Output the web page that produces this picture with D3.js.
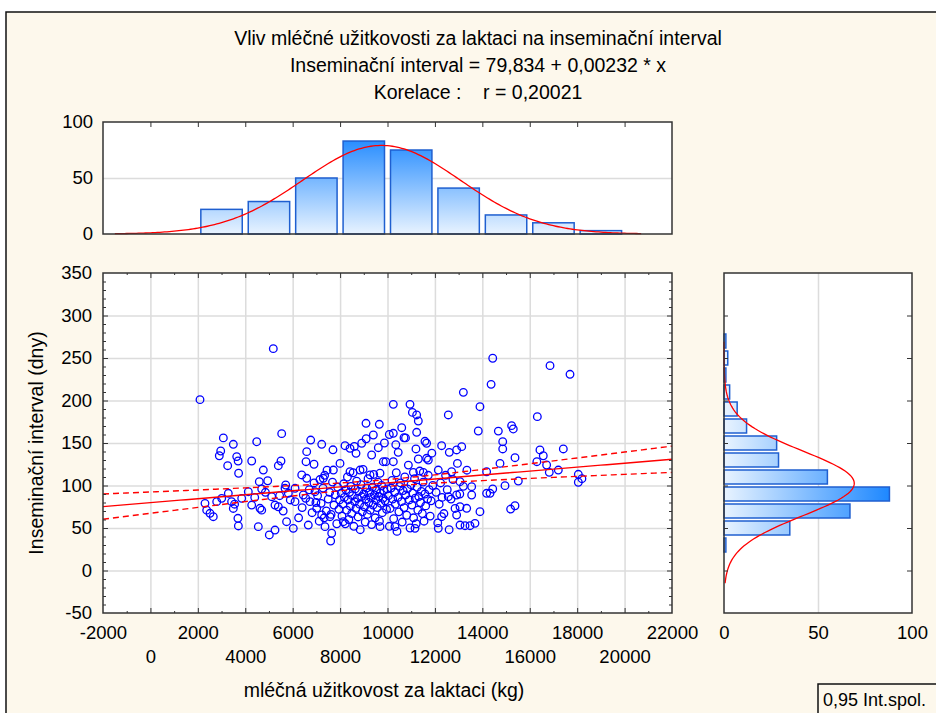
<!DOCTYPE html>
<html>
<head>
<meta charset="utf-8">
<script src="https://cdn.jsdelivr.net/npm/d3@7/dist/d3.min.js"></script>
<style>
  body { margin: 0; background: #fff; }
  text { font-family: 'Liberation Sans', Arial, sans-serif; fill: #000; }
</style>
</head>
<body>
<script>
/* global d3 */

// chart texts
const titleLines = [
  'Vliv mléčné užitkovosti za laktaci na inseminační interval',
  'Inseminační interval = 79,834 + 0,00232 * x',
  'Korelace :    r = 0,20021',
];
const xTitle = 'mléčná užitkovost za laktaci (kg)';
const yTitle = 'Inseminační interval (dny)';
const legendText = '0,95 Int.spol.';

// tick labels
const xLabelsRow1 = [-2000, 2000, 6000, 10000, 14000, 18000, 22000];
const xLabelsRow2 = [0, 4000, 8000, 12000, 16000, 20000];
const yLabels = [-50, 0, 50, 100, 150, 200, 250, 300, 350];
const histLabels = [0, 50, 100];

// histogram of milk yield (bins 2000 kg wide)
const xBinStarts = [2000, 4000, 6000, 8000, 10000, 12000, 14000, 16000, 18000];
const xBinCounts = [22, 29, 50, 83, 75, 41, 17, 10, 3];
// histogram of insemination interval (bins 20 days wide)
const yBinStarts = [20, 40, 60, 80, 100, 120, 140, 160, 180, 200, 220, 240, 260];
const yBinCounts = [1, 35, 67, 88, 55, 29, 28, 12, 7, 3, 1, 2, 1];

// fit parameters
const intercept = 79.834;
const slope = 0.00232;
const nObs = 330;
const meanX = 9750;
const sdX = 3330;
const meanY = 102.5;
const sdY = 38;
const residSd = 37.4;
const tCrit = 1.967;

// observations [kg, days]
const points = [
  [5183, 261], [2091, 201], [5537, 161], [3076, 156], [3497, 148.5], [4483, 151.5], [2965, 140.6],
  [2906, 135], [3640, 134], [3700, 128.8], [3259, 123.3], [4272, 128.8], [5508, 128.8], [5395, 123.3],
  [4762, 118.2], [3720, 114.4], [4593, 104.5], [4947, 105.6], [5706, 100.6], [4694, 95.9], [4129, 92.7],
  [3286, 90.8], [3007, 84.9], [3850, 84.9], [2302, 79], [2796, 81], [2374, 71], [2513, 67.3],
  [2652, 63.3], [3425, 81], [3496, 73], [3690, 61.4], [3710, 52.4], [4272, 77], [4622, 73.2],
  [4694, 71], [5115, 86.8], [5255, 77], [5395, 75], [5677, 96.7], [5818, 90.8], [4551, 51.6],
  [5015, 41.8], [5255, 47.6], [5743, 57.4], [3550, 78], [4400, 86], [4850, 92], [5450, 88],
  [5900, 83], [5600, 70],
  [6761, 153.5], [7225, 148.5], [6592, 139.8], [6563, 128], [6900, 125], [9093, 173.2], [9655, 172],
  [9402, 159.4], [10077, 160], [8208, 146.8], [8419, 143.7], [8912, 149.7], [9613, 144.5], [8672, 137.8],
  [9331, 135.9], [9824, 128], [7997, 126], [7716, 118.2], [6382, 112.4], [6592, 108.5], [7293, 108.5],
  [8419, 116.2], [8841, 118.2], [9262, 112.4], [9684, 114.4], [6100, 96.7], [6449, 88.8], [6943, 92.7],
  [6100, 81], [6731, 81], [7014, 73.2], [7225, 65.3], [7575, 63.3], [6659, 53.5], [7364, 51.6],
  [7646, 43.8], [7603, 34.7], [6027, 49.6], [8136, 57.4], [9684, 51.6],
  [13200, 209.6], [10245, 195.5], [10949, 195.5], [13900, 192.7], [11230, 183], [11300, 175.9],
  [12565, 183], [10245, 161.4], [10696, 156.2], [11230, 162.6], [13829, 164.1], [11650, 149.7],
  [12283, 146.8], [12607, 139], [13130, 145.7], [12916, 141.8], [10452, 139], [11300, 131.2],
  [11721, 130], [10245, 128], [12142, 118.2], [12705, 116.2], [11090, 115.5], [11511, 115.5],
  [14180, 116.2], [13058, 104.5], [13550, 98.6], [14180, 90.8], [13550, 88.8], [12916, 88.8],
  [12565, 86.8], [13058, 75], [13340, 73.2], [13900, 69.2], [12916, 65.3], [12142, 49.6],
  [13058, 53.5], [13270, 52.7], [13480, 52.7], [13690, 55.5], [12283, 63.3], [11160, 49.6], [10316, 51.6],
  [16855, 241], [17698, 230.8], [14438, 249.7], [14370, 219], [16320, 181], [14675, 164], [15235, 170.4],
  [15305, 166.5], [14860, 151.5], [14860, 143], [16430, 141.8], [16570, 135], [17416, 143], [15378, 132.7],
  [14745, 126], [16712, 124.1], [16824, 115.5], [17205, 118.2], [18049, 113.2], [18049, 103.8],
  [15518, 105.3], [14956, 99.8], [14438, 95.9], [14325, 90.8], [15378, 76.2], [15193, 72.3],
  [16300, 128], [18200, 108],
  // dense core
  [6250, 62], [6400, 74], [6550, 85], [6700, 95], [6820, 68], [6900, 103], [7050, 88], [7120, 58],
  [7200, 79], [7280, 97], [7350, 112], [7420, 70], [7500, 84], [7560, 92], [7620, 66], [7680, 104],
  [7740, 77], [7800, 89], [7860, 55], [7900, 98], [7950, 72], [7980, 83], [7450, 118], [6980, 80],
  [7330, 62], [7700, 142], [7150, 107],
  [8050, 91], [8080, 64], [8120, 78], [8150, 102], [8180, 86], [8220, 55], [8250, 95], [8280, 71],
  [8310, 110], [8340, 83], [8370, 60], [8400, 92], [8430, 76], [8460, 99], [8490, 67], [8520, 88],
  [8550, 115], [8580, 52], [8610, 81], [8640, 96], [8670, 73], [8700, 105], [8730, 85], [8760, 63],
  [8790, 93], [8820, 78], [8850, 48], [8880, 101], [8910, 87], [8940, 69], [8970, 119], [9000, 90],
  [9030, 75], [9060, 57], [9090, 84], [9120, 97], [9150, 66], [9180, 108], [9210, 80], [9240, 92],
  [9270, 71], [9300, 86], [9330, 54], [9360, 98], [9390, 77], [9420, 113], [9450, 89], [9480, 62],
  [9510, 83], [9540, 95], [9570, 74], [9600, 104], [9630, 87], [9660, 58], [9690, 91], [9720, 79],
  [9750, 100], [9780, 68], [9810, 85], [9840, 94], [9870, 150], [9900, 82], [9930, 128], [9960, 72],
  [9990, 96], [8600, 146], [9100, 155],
  [10040, 88], [10080, 52], [10110, 73], [10150, 97], [10190, 106], [10220, 84], [10260, 61], [10300, 92],
  [10330, 78], [10370, 115], [10400, 46], [10440, 86], [10480, 69], [10510, 99], [10550, 103], [10590, 81],
  [10620, 57], [10660, 94], [10700, 74], [10730, 110], [10770, 89], [10810, 65], [10840, 96], [10880, 124],
  [10920, 83], [10950, 50], [10990, 101], [11030, 77], [11060, 91], [11100, 62], [11140, 108], [11170, 85],
  [11210, 55], [11250, 98], [11280, 71], [11320, 87], [11360, 117], [11390, 80], [11430, 93], [11470, 67],
  [11500, 104], [11540, 58], [11580, 90], [11610, 76], [11650, 132], [11690, 84], [11720, 112], [11760, 95],
  [11800, 64], [11840, 82], [11870, 138], [11910, 100], [10350, 148], [10760, 156], [11200, 143],
  [11580, 152], [10600, 168], [11050, 186],
  [12050, 92], [12120, 56], [12180, 78], [12240, 103], [12300, 86], [12380, 67], [12450, 112], [12520, 95],
  [12600, 48], [12680, 84], [12760, 107], [12850, 73], [12950, 126], [13050, 90], [13200, 99], [13350, 118],
];

const W = 936;
const H = 713;
const plot = { left: 103, right: 672, top: 273, bottom: 613 };
const topHist = { top: 122, bottom: 234 };
const sideHist = { left: 724, right: 912 };

const fontSize = '18.5px';
const titleSize = '19.5px';
const gridColor = '#dcdcdc';
const frameColor = '#333';

const svg = d3.select('body')
  .append('svg')
  .attr('width', W)
  .attr('height', H);

const defs = svg.append('defs');

// background with the cream panel
svg.append('rect').attr('width', W).attr('height', H).attr('fill', '#fff');
svg.append('rect')
  .attr('x', 6).attr('y', 12)
  .attr('width', W).attr('height', H)
  .attr('fill', '#fdf8ec')
  .attr('stroke', '#111')
  .attr('stroke-width', 1.5);

const x = d3.scaleLinear().domain([-2000, 22000]).range([plot.left, plot.right]);
const y = d3.scaleLinear().domain([-50, 350]).range([plot.bottom, plot.top]);
const yTop = d3.scaleLinear().domain([0, 100]).range([topHist.bottom, topHist.top]);
const xSide = d3.scaleLinear().domain([0, 100]).range([sideHist.left, sideHist.right]);

// titles
svg.append('g')
  .selectAll('text')
  .data(titleLines)
  .enter().append('text')
  .attr('x', 478)
  .attr('y', (d, i) => 45 + i * 27)
  .attr('text-anchor', 'middle')
  .style('font-size', titleSize)
  .style('white-space', 'pre')
  .text((d) => d);

function styleAxis(g) {
  g.select('.domain').remove();
  g.selectAll('text')
    .attr('font-family', null)
    .style('font-size', fontSize)
    .style('fill', '#000');
}

/* ---------- top histogram ---------- */
const gradV = defs.append('linearGradient')
  .attr('id', 'gradV')
  .attr('gradientUnits', 'userSpaceOnUse')
  .attr('x1', 0).attr('x2', 0)
  .attr('y1', topHist.bottom).attr('y2', yTop(88));
gradV.append('stop').attr('offset', '0%').attr('stop-color', '#e8f3ff');
gradV.append('stop').attr('offset', '100%').attr('stop-color', '#1e88ff');

svg.append('rect')
  .attr('x', plot.left).attr('y', topHist.top)
  .attr('width', plot.right - plot.left)
  .attr('height', topHist.bottom - topHist.top)
  .attr('fill', '#fff');

svg.append('g')
  .attr('transform', `translate(${plot.left},0)`)
  .call(d3.axisLeft(yTop).tickValues([50]).tickSize(-(plot.right - plot.left)).tickFormat(''))
  .call((g) => g.select('.domain').remove())
  .selectAll('line').attr('stroke', gridColor).attr('stroke-width', 1.5);

svg.append('g')
  .selectAll('rect')
  .data(xBinStarts)
  .enter().append('rect')
  .attr('x', (d) => x(d) + 3)
  .attr('width', (d) => x(d + 2000) - x(d) - 6)
  .attr('y', (d, i) => yTop(xBinCounts[i]))
  .attr('height', (d, i) => yTop(0) - yTop(xBinCounts[i]))
  .attr('fill', 'url(#gradV)')
  .attr('stroke', '#1f5fd0')
  .attr('stroke-width', 1.5);

const normTop = d3.range(-1500, 20701, 100).map((v) => [
  v,
  (nObs * 2000) / (sdX * Math.sqrt(2 * Math.PI)) * Math.exp(-0.5 * ((v - meanX) / sdX) ** 2),
]);
svg.append('path')
  .datum(normTop)
  .attr('fill', 'none')
  .attr('stroke', '#ff0000')
  .attr('stroke-width', 1.3)
  .attr('d', d3.line().x((d) => x(d[0])).y((d) => yTop(d[1])));

svg.append('g')
  .attr('transform', `translate(0,${topHist.top})`)
  .call(d3.axisBottom(x).tickValues(d3.range(0, 20001, 2000)).tickSize(5).tickFormat(''))
  .call((g) => g.select('.domain').remove())
  .selectAll('line').attr('stroke', frameColor);

svg.append('rect')
  .attr('x', plot.left).attr('y', topHist.top)
  .attr('width', plot.right - plot.left)
  .attr('height', topHist.bottom - topHist.top)
  .attr('fill', 'none')
  .attr('stroke', frameColor)
  .attr('stroke-width', 1.5);

svg.append('g')
  .attr('transform', `translate(${plot.left},0)`)
  .call(d3.axisLeft(yTop).tickValues(histLabels).tickSize(0).tickPadding(10))
  .call(styleAxis);

/* ---------- scatter plot ---------- */
svg.append('rect')
  .attr('x', plot.left).attr('y', plot.top)
  .attr('width', plot.right - plot.left)
  .attr('height', plot.bottom - plot.top)
  .attr('fill', '#fff');

svg.append('g')
  .attr('transform', `translate(0,${plot.bottom})`)
  .call(d3.axisBottom(x).tickValues(d3.range(0, 20001, 2000)).tickSize(-(plot.bottom - plot.top)).tickFormat(''))
  .call((g) => g.select('.domain').remove())
  .selectAll('line').attr('stroke', gridColor).attr('stroke-width', 1.5);

svg.append('g')
  .attr('transform', `translate(${plot.left},0)`)
  .call(d3.axisLeft(y).tickValues(d3.range(0, 301, 50)).tickSize(-(plot.right - plot.left)).tickFormat(''))
  .call((g) => g.select('.domain').remove())
  .selectAll('line').attr('stroke', gridColor).attr('stroke-width', 1.5);

svg.append('g')
  .selectAll('circle')
  .data(points)
  .enter().append('circle')
  .attr('cx', (d) => x(d[0]))
  .attr('cy', (d) => y(d[1]))
  .attr('r', 3.8)
  .attr('fill', 'none')
  .attr('stroke', '#0000ff')
  .attr('stroke-width', 1.3);

// regression line and 0.95 confidence band
const sxx = nObs * sdX * sdX;
const fitX = d3.range(-2000, 22001, 250);
const fit = fitX.map((v) => {
  const yh = intercept + slope * v;
  const se = residSd * Math.sqrt(1 / nObs + ((v - meanX) ** 2) / sxx);
  return { v, yh, lo: yh - tCrit * se, hi: yh + tCrit * se };
});

svg.append('path')
  .datum(fit)
  .attr('fill', 'none')
  .attr('stroke', '#ff0000')
  .attr('stroke-width', 1.4)
  .attr('d', d3.line().x((d) => x(d.v)).y((d) => y(d.yh)));

['lo', 'hi'].forEach((k) => {
  svg.append('path')
    .datum(fit)
    .attr('fill', 'none')
    .attr('stroke', '#ff0000')
    .attr('stroke-width', 1.4)
    .attr('stroke-dasharray', '6,4')
    .attr('d', d3.line().x((d) => x(d.v)).y((d) => y(d[k])));
});

// inner ticks on all sides
function innerTicks(axisFn, scale, values, size, transform) {
  svg.append('g')
    .attr('transform', transform)
    .call(axisFn(scale).tickValues(values).tickSize(size).tickFormat(''))
    .call((g) => g.select('.domain').remove())
    .selectAll('line').attr('stroke', frameColor);
}
const yMinor = d3.range(-40, 350, 10).filter((v) => v % 50 !== 0);
const xMinor = d3.range(-1000, 22000, 2000);
const xMajor = d3.range(0, 20001, 2000);
const yMajor = d3.range(0, 301, 50);
innerTicks(d3.axisRight, y, yMajor, 5, `translate(${plot.left},0)`);
innerTicks(d3.axisRight, y, yMinor, 3, `translate(${plot.left},0)`);
innerTicks(d3.axisLeft, y, yMajor, 5, `translate(${plot.right},0)`);
innerTicks(d3.axisLeft, y, yMinor, 3, `translate(${plot.right},0)`);
innerTicks(d3.axisTop, x, xMajor, 5, `translate(0,${plot.bottom})`);
innerTicks(d3.axisTop, x, xMinor, 2, `translate(0,${plot.bottom})`);
innerTicks(d3.axisBottom, x, xMajor, 5, `translate(0,${plot.top})`);
innerTicks(d3.axisBottom, x, xMinor, 2, `translate(0,${plot.top})`);

svg.append('rect')
  .attr('x', plot.left).attr('y', plot.top)
  .attr('width', plot.right - plot.left)
  .attr('height', plot.bottom - plot.top)
  .attr('fill', 'none')
  .attr('stroke', frameColor)
  .attr('stroke-width', 1.5);

svg.append('g')
  .attr('transform', `translate(${plot.left},0)`)
  .call(d3.axisLeft(y).tickValues(yLabels).tickSize(0).tickPadding(11).tickFormat((d) => String(d)))
  .call(styleAxis);

svg.append('g')
  .attr('transform', `translate(0,${plot.bottom})`)
  .call(d3.axisBottom(x).tickValues(xLabelsRow1).tickSize(0).tickPadding(13).tickFormat((d) => String(d)))
  .call(styleAxis);

svg.append('g')
  .attr('transform', `translate(0,${plot.bottom})`)
  .call(d3.axisBottom(x).tickValues(xLabelsRow2).tickSize(0).tickPadding(37).tickFormat((d) => String(d)))
  .call(styleAxis);

svg.append('text')
  .attr('x', 384)
  .attr('y', 697)
  .attr('text-anchor', 'middle')
  .style('font-size', titleSize)
  .text(xTitle);

svg.append('text')
  .attr('transform', 'translate(43,443) rotate(-90)')
  .attr('text-anchor', 'middle')
  .style('font-size', titleSize)
  .text(yTitle);

/* ---------- side histogram ---------- */
const gradH = defs.append('linearGradient')
  .attr('id', 'gradH')
  .attr('gradientUnits', 'userSpaceOnUse')
  .attr('y1', 0).attr('y2', 0)
  .attr('x1', sideHist.left).attr('x2', xSide(88));
gradH.append('stop').attr('offset', '0%').attr('stop-color', '#e8f3ff');
gradH.append('stop').attr('offset', '100%').attr('stop-color', '#1e88ff');

svg.append('rect')
  .attr('x', sideHist.left).attr('y', plot.top)
  .attr('width', sideHist.right - sideHist.left)
  .attr('height', plot.bottom - plot.top)
  .attr('fill', '#fff');

svg.append('g')
  .attr('transform', `translate(0,${plot.bottom})`)
  .call(d3.axisBottom(xSide).tickValues([50]).tickSize(-(plot.bottom - plot.top)).tickFormat(''))
  .call((g) => g.select('.domain').remove())
  .selectAll('line').attr('stroke', gridColor).attr('stroke-width', 1.5);

svg.append('g')
  .selectAll('rect')
  .data(yBinStarts)
  .enter().append('rect')
  .attr('x', xSide(0))
  .attr('y', (d) => y(d + 20) + 1.5)
  .attr('height', (d) => y(d) - y(d + 20) - 3)
  .attr('width', (d, i) => xSide(yBinCounts[i]) - xSide(0))
  .attr('fill', 'url(#gradH)')
  .attr('stroke', '#1f5fd0')
  .attr('stroke-width', 1.5);

const normSide = d3.range(-15, 271, 2).map((v) => [
  v,
  (nObs * 20) / (sdY * Math.sqrt(2 * Math.PI)) * Math.exp(-0.5 * ((v - meanY) / sdY) ** 2),
]);
svg.append('path')
  .datum(normSide)
  .attr('fill', 'none')
  .attr('stroke', '#ff0000')
  .attr('stroke-width', 1.3)
  .attr('d', d3.line().x((d) => xSide(d[1])).y((d) => y(d[0])));

innerTicks(d3.axisLeft, y, yMajor, 5, `translate(${sideHist.right},0)`);
innerTicks(d3.axisRight, y, yMajor, 4, `translate(${sideHist.left},0)`);

svg.append('rect')
  .attr('x', sideHist.left).attr('y', plot.top)
  .attr('width', sideHist.right - sideHist.left)
  .attr('height', plot.bottom - plot.top)
  .attr('fill', 'none')
  .attr('stroke', frameColor)
  .attr('stroke-width', 1.5);

svg.append('g')
  .attr('transform', `translate(0,${plot.bottom})`)
  .call(d3.axisBottom(xSide).tickValues(histLabels).tickSize(0).tickPadding(13))
  .call(styleAxis);

/* ---------- legend ---------- */
svg.append('rect')
  .attr('x', 818).attr('y', 684)
  .attr('width', 140).attr('height', 40)
  .attr('fill', '#fdf8ec')
  .attr('stroke', '#111')
  .attr('stroke-width', 1.5);

svg.append('text')
  .attr('x', 823)
  .attr('y', 706)
  .style('font-size', '18px')
  .text(legendText);
</script>
</body>
</html>
